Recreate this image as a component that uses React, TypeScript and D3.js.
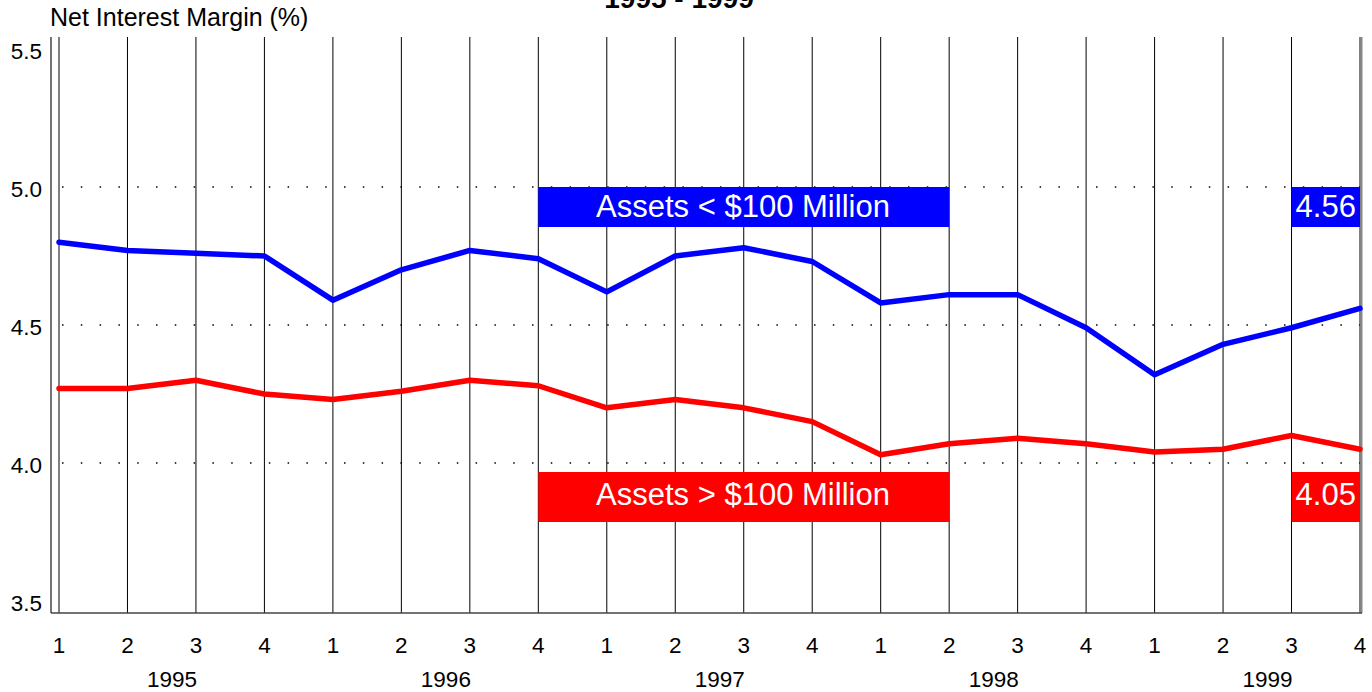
import React from "react";
import * as d3 from "d3";

const years = ["1995", "1996", "1997", "1998", "1999"];
const quarters = ["1", "2", "3", "4"];
const smallBanks = [4.8, 4.77, 4.76, 4.75, 4.59, 4.7, 4.77, 4.74, 4.62, 4.75, 4.78, 4.73, 4.58, 4.61, 4.61, 4.49, 4.32, 4.43, 4.49, 4.56];
const largeBanks = [4.27, 4.27, 4.3, 4.25, 4.23, 4.26, 4.3, 4.28, 4.2, 4.23, 4.2, 4.15, 4.03, 4.07, 4.09, 4.07, 4.04, 4.05, 4.1, 4.05];
const yTicks = [3.5, 4.0, 4.5, 5.0, 5.5];
const dottedLevels = [4.0, 4.5, 5.0];

const W = 1372;
const H = 692;
const FONT = "'Liberation Sans', Arial, sans-serif";

export default function App() {
  const n = smallBanks.length;
  const x = d3.scaleLinear().domain([0, n - 1]).range([59, 1360]);
  const y = d3.scaleLinear().domain([3.457, 5.543]).range([613, 37]);
  const line = d3.line<number>().x((_, i) => x(i)).y((d) => y(d));
  const idx = d3.range(n);

  return (
    <svg width={W} height={H} style={{ position: "absolute", left: 0, top: 0, background: "#fff" }} fontFamily={FONT}>
      <text x={679} y={8} textAnchor="middle" fontSize={28} fontWeight="bold" fill="#000">1995 - 1999</text>
      <text x={50} y={26} fontSize={25} fill="#000">Net Interest Margin (%)</text>

      {/* vertical grid */}
      {idx.map((i) => (
        <line key={"v" + i} x1={x(i)} x2={x(i)} y1={37} y2={613} stroke="#000" strokeWidth={1} />
      ))}
      <line x1={1361.5} x2={1361.5} y1={37} y2={613} stroke="#888" strokeWidth={2} />

      {/* dotted horizontal */}
      {dottedLevels.map((v) => (
        <line key={"h" + v} x1={62} x2={1360} y1={y(v)} y2={y(v)} stroke="#000" strokeWidth={1.5} strokeDasharray="1.5,17.3" />
      ))}

      {/* axes */}
      <line x1={51} x2={51} y1={37} y2={613} stroke="#444" strokeWidth={1.5} />
      <line x1={51} x2={1362} y1={613} y2={613} stroke="#444" strokeWidth={1.5} />

      {yTicks.map((v) => (
        <text key={"yt" + v} x={42} y={y(v) + 2} dy="0.36em" textAnchor="end" fontSize={22.5} fill="#000">{v.toFixed(1)}</text>
      ))}

      {idx.map((i) => (
        <text key={"q" + i} x={x(i)} y={645} dy="0.36em" textAnchor="middle" fontSize={22.5} fill="#000">{quarters[i % 4]}</text>
      ))}
      {years.map((yr, k) => (
        <text key={yr} x={x(k * 4 + 1.65)} y={679} dy="0.36em" textAnchor="middle" fontSize={22.5} fill="#000">{yr}</text>
      ))}

      {/* series */}
      <path d={line(largeBanks) || ""} fill="none" stroke="#ff0000" strokeWidth={5.5} strokeLinejoin="round" strokeLinecap="round" />
      <path d={line(smallBanks) || ""} fill="none" stroke="#0000ff" strokeWidth={5.5} strokeLinejoin="round" strokeLinecap="round" />

      {/* labels */}
      <rect x={x(7)} y={187} width={x(13) - x(7)} height={40} fill="#0000ff" />
      <text x={743} y={206} dy="0.36em" textAnchor="middle" fontSize={31} fill="#fff">Assets &lt; $100 Million</text>
      <rect x={x(18)} y={187} width={x(19) - x(18)} height={40} fill="#0000ff" />
      <text x={(x(18) + x(19)) / 2} y={206} dy="0.36em" textAnchor="middle" fontSize={31} fill="#fff">{smallBanks[n - 1].toFixed(2)}</text>

      <rect x={x(7)} y={472} width={x(13) - x(7)} height={50} fill="#ff0000" />
      <text x={743} y={494} dy="0.36em" textAnchor="middle" fontSize={31} fill="#fff">Assets &gt; $100 Million</text>
      <rect x={x(18)} y={472} width={x(19) - x(18)} height={50} fill="#ff0000" />
      <text x={(x(18) + x(19)) / 2} y={494} dy="0.36em" textAnchor="middle" fontSize={31} fill="#fff">{largeBanks[n - 1].toFixed(2)}</text>
    </svg>
  );
}
